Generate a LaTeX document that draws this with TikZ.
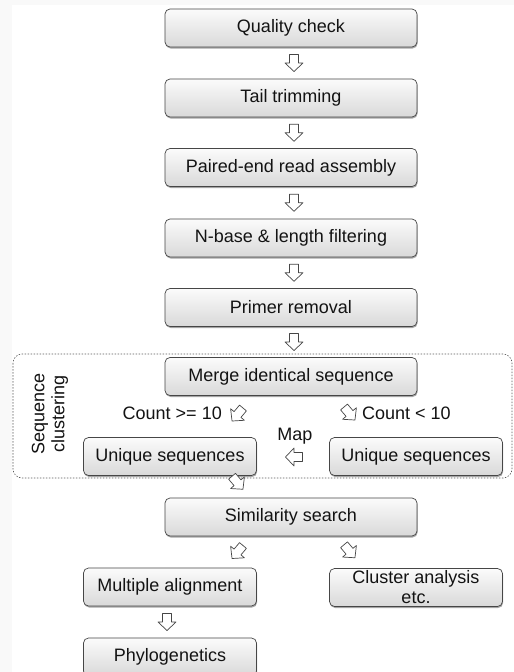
\documentclass[tikz,border=0pt]{standalone}
\usepackage{fontspec}
\setmainfont{Liberation Sans}
\usetikzlibrary{shadows,calc}
\tikzset{
 box/.style={draw=gray!55!black, line width=0.7pt, rounded corners=5pt, top color=gray!3, bottom color=gray!30, minimum height=38pt, inner sep=0pt, text=gray!15!black, font=\fontsize{18}{20}\selectfont, align=center, drop shadow={shadow xshift=0.6pt, shadow yshift=-1.5pt, opacity=0.35, fill=black}},
 wide/.style={box, minimum width=252pt},
 narrow/.style={box, minimum width=173pt},
 lbl/.style={text=gray!15!black, font=\fontsize{18}{20}\selectfont, inner sep=0pt},
 barrow/.pic={\draw[draw=gray!55!black, fill=white, line width=0.7pt, line join=round] (-4.5,-8.5) -- (4.5,-8.5) -- (4.5,0) -- (9,0) -- (0,8.5) -- (-9,0) -- (-4.5,0) -- cycle;}
}
\begin{document}
\begin{tikzpicture}[x=1pt,y=-1pt]
\useasboundingbox (0,0) rectangle (514,672);
\fill[gray!5] (0,0) rectangle (514,672);
\fill[white] (12,5) rectangle (514,672);
% grouping frame
\draw[gray!70!black, dash pattern=on 1.5pt off 1.5pt, rounded corners=9pt, line width=0.6pt] (13,354) rectangle (512,478);
% boxes
\node[wide] (q)  at (291,28)    {Quality check};
\node[wide] (t)  at (291,98)    {Tail trimming};
\node[wide] (p)  at (291,167.5) {Paired-end read assembly};
\node[wide] (n)  at (291,238)   {N-base \& length filtering};
\node[wide] (pr) at (291,307.5) {Primer removal};
\node[wide] (m)  at (291,376.5) {Merge identical sequence};
\node[narrow] (u1) at (170,456.5) {Unique sequences};
\node[narrow] (u2) at (416,456.5) {Unique sequences};
\node[wide] (s)  at (291,517)   {Similarity search};
\node[narrow] (ma) at (170,587) {Multiple alignment};
\node[narrow] (ca) at (416,587.5) {Cluster analysis\\etc.};
\node[narrow] (ph) at (170,657) {Phylogenetics};
% labels
\node[lbl, rotate=90, align=center] (sc) at (50,414) {Sequence\\clustering};
\node[lbl, anchor=east] (c1) at (222,413) {Count >= 10};
\node[lbl, anchor=west] (c2) at (362,413) {Count < 10};
\node[lbl] (map) at (295,436) {Map};
% block arrows
\pic at ($(q.south)!0.5!(t.north)+(3,0)$) {barrow};
\pic at ($(t.south)!0.5!(p.north)+(3,0)$) {barrow};
\pic at ($(p.south)!0.5!(n.north)+(3,0)$) {barrow};
\pic at ($(n.south)!0.5!(pr.north)+(3,0)$) {barrow};
\pic at ($(pr.south)!0.5!(m.north)+(3,0)$) {barrow};
\pic[rotate=-40] at ($(m.south)!0.5!(u1.north)+(7,-2)$) {barrow};
\pic[rotate=40] at ($(m.south)!0.5!(u2.north)+(-4,-3)$) {barrow};
\pic[rotate=-90] at ($(u2.west)!0.5!(u1.east)+(1,0.5)$) {barrow};
\pic[rotate=40] at ($(u1.south)!0.5!(s.north)+(7,-4)$) {barrow};
\pic[rotate=-40] at ($(s.south)!0.5!(ma.north)+(7,0)$) {barrow};
\pic[rotate=40] at ($(s.south)!0.5!(ca.north)+(-4,-1)$) {barrow};
\pic at ($(ma.south)!0.5!(ph.north)+(-3,0)$) {barrow};
\end{tikzpicture}
\end{document}
